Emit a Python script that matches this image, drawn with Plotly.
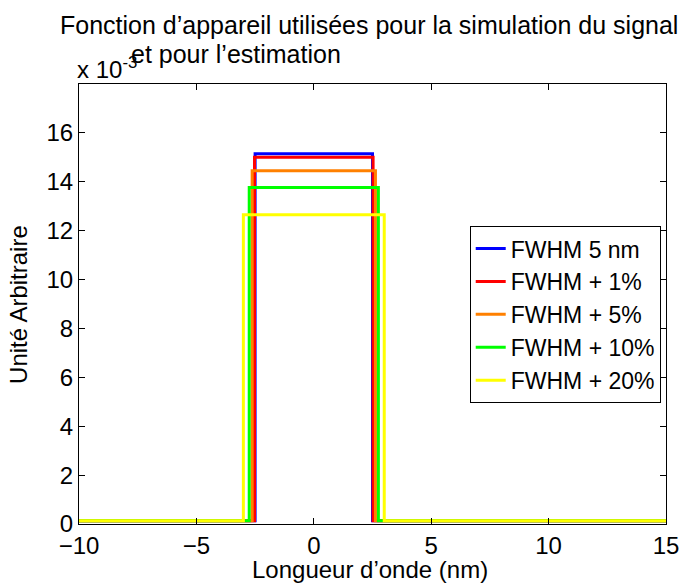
import plotly.graph_objects as go

# fonctions d'appareil (rectangles) : largeur totale en nm et hauteur (x 10^-3)
noms = ['FWHM 5 nm', 'FWHM + 1%', 'FWHM + 5%', 'FWHM + 10%', 'FWHM + 20%']
fwhm = [5.0, 5.05, 5.25, 5.5, 6.0]
hauteurs = [15.15, 15.0, 14.45, 13.77, 12.65]
fond = [0.13, 0.13, 0.13, 0.13, 0.13]
couleurs = ['#0000ff', '#ff0000', '#ff8000', '#00ff00', '#ffff00']
x_min, x_max = -10, 15

fig = go.Figure()
for nom, w, h, b, c in zip(noms, fwhm, hauteurs, fond, couleurs):
    xs = [x_min, -w / 2, -w / 2, w / 2, w / 2, x_max]
    ys = [b, b, h, h, b, b]
    fig.add_trace(go.Scatter(x=xs, y=ys, mode='lines', name=nom,
                             line=dict(color=c, width=3)))

police = dict(family='Liberation Sans, Arial, sans-serif', size=24, color='black')
axe = dict(showline=True, linecolor='black', linewidth=1, mirror='ticks',
           ticks='inside', ticklen=6, tickcolor='black', showgrid=False,
           zeroline=False, tickfont=police, automargin=False)

fig.update_layout(
    width=682, height=583,
    margin=dict(l=79, r=16, t=84, b=59),
    paper_bgcolor='white', plot_bgcolor='white',
    font=police,
    showlegend=True,
    xaxis=dict(axe, range=[x_min, x_max], tickvals=[-10, -5, 0, 5, 10, 15]),
    yaxis=dict(axe, range=[0, 18], tickvals=list(range(0, 17, 2))),
    legend=dict(x=0.991, xanchor='right', y=0.677, yanchor='top',
                bordercolor='black', borderwidth=1, bgcolor='white',
                font=dict(police, size=23), tracegroupgap=0),
    annotations=[
        dict(text='x 10<sup>-3</sup>', xref='paper', yref='paper',
             x=-0.006, y=1.036, xanchor='left', yanchor='middle',
             showarrow=False, font=police),
        dict(text='Fonction d’appareil utilisées pour la simulation du signal',
             xref='paper', yref='paper', x=0.494, y=1.134,
             xanchor='center', yanchor='middle', showarrow=False,
             font=dict(police, size=25)),
        dict(text='et pour l’estimation', xref='paper', yref='paper',
             x=0.086, y=1.068, xanchor='left', yanchor='middle',
             showarrow=False, font=dict(police, size=25)),
        dict(text='Longueur d’onde (nm)', xref='paper', yref='paper',
             x=0.495, y=-0.103, xanchor='center', yanchor='middle',
             showarrow=False, font=police),
        dict(text='Unité Arbitraire', xref='paper', yref='paper',
             x=-0.104, y=0.5, xanchor='center', yanchor='middle',
             textangle=-90, showarrow=False, font=police),
    ],
)

# pas de marge de page autour du graphique
fig.write_html('out.html', config={'displayModeBar': False},
               post_script="document.body.style.margin='0';")
